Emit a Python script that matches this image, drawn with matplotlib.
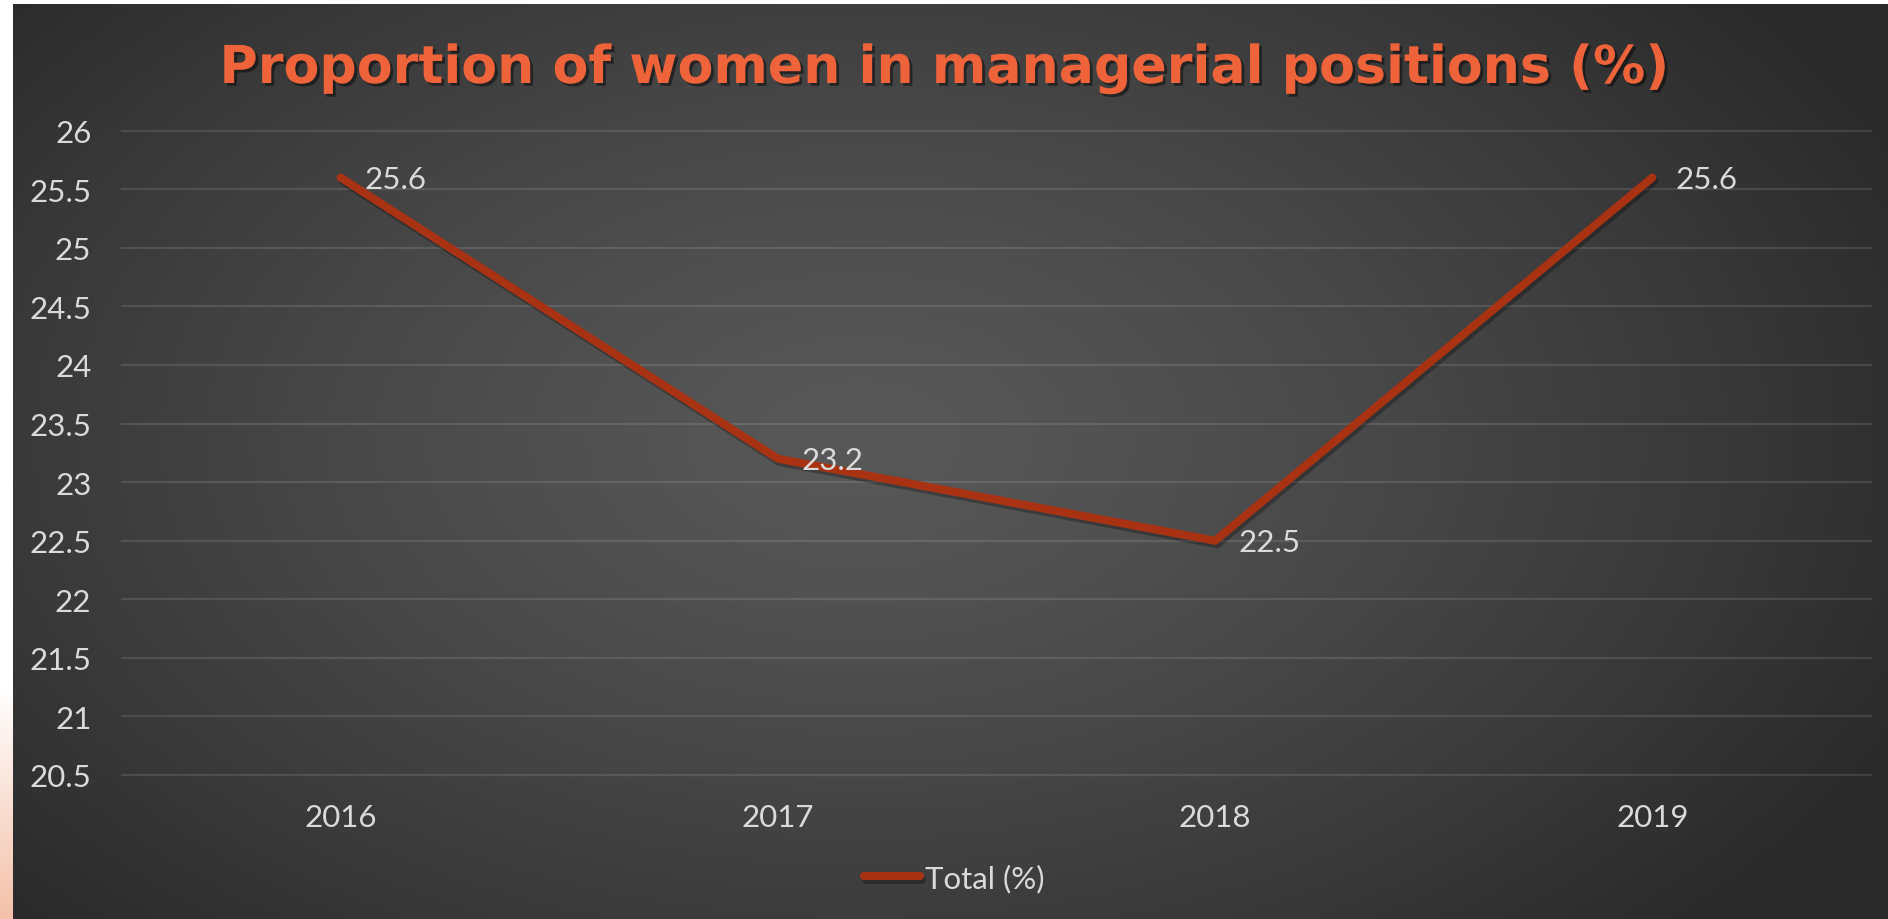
import numpy as np
import matplotlib
matplotlib.use("Agg")
import matplotlib.pyplot as plt
import matplotlib.patheffects as pe

# Chart data
years = ["2016", "2017", "2018", "2019"]
total_pct = [25.6, 23.2, 22.5, 25.6]
y_ticks = [20.5, 21, 21.5, 22, 22.5, 23, 23.5, 24, 24.5, 25, 25.5, 26]
title_text = "Proportion of women in managerial positions (%)"
series_name = "Total (%)"

W, H = 1888, 920
fig = plt.figure(figsize=(W / 100, H / 100), dpi=100)

# Dark radial-gradient backdrop with a thin white frame and a salmon accent strip
bg = fig.add_axes([0, 0, 1, 1])
bg.set_axis_off()
yy, xx = np.mgrid[0:H, 0:W]
r = np.sqrt(((xx - 860) / 1150.0) ** 2 + ((yy - 440) / 700.0) ** 2)
v = (88 - 46 * np.clip(r, 0, 1) ** 1.3) / 255.0
img = np.dstack([v, v, v])
img[:5, :, :] = 1.0
t = np.clip((np.arange(H) - 690) / 230.0, 0, 1)[:, None]
salmon = np.array([244, 192, 168]) / 255.0
img[:, :13, :] = (1 - t)[:, :, None] * 1.0 + t[:, :, None] * salmon
bg.imshow(img, aspect="auto", interpolation="bilinear")

# Plot area
ax = fig.add_axes([122 / W, 1 - 776 / H, 1749 / W, (776 - 131.7) / H])
ax.patch.set_alpha(0)
for s in ax.spines.values():
    s.set_visible(False)

x = np.arange(len(years))
ax.set_xlim(-0.5, len(years) - 0.5)
ax.set_ylim(y_ticks[0], y_ticks[-1])
ax.set_yticks(y_ticks)
ax.set_yticklabels([f"{v:g}" for v in y_ticks])
ax.set_xticks(x)
ax.set_xticklabels(years)

text_color = "#DADADA"
label_font = dict(family="Lato", weight="normal", size=22.5)
for lbl in ax.get_yticklabels() + ax.get_xticklabels():
    lbl.set_fontfamily(label_font["family"])
    lbl.set_fontweight(label_font["weight"])
    lbl.set_fontsize(label_font["size"])
    lbl.set_color(text_color)
ax.tick_params(axis="y", length=0, pad=22)
ax.tick_params(axis="x", length=0, pad=20)

ax.grid(axis="y", color="white", alpha=0.11, linewidth=1.6)
ax.grid(axis="x", visible=False)
for gl in ax.get_ygridlines():
    gl.set_clip_on(False)

line_color = "#A83212"
ax.plot(x, total_pct, color=line_color, linewidth=5.8,
        solid_capstyle="round", solid_joinstyle="miter", label=series_name,
        path_effects=[pe.SimpleLineShadow(offset=(1.5, -2.5), shadow_color="black", alpha=0.28),
                      pe.Normal()],
        zorder=3, clip_on=False)

for xi, val in zip(x, total_pct):
    ax.annotate(f"{val:g}", (xi, val), xytext=(17, -1), textcoords="offset points",
                ha="left", va="center", color=text_color,
                fontfamily=label_font["family"], fontweight=label_font["weight"],
                fontsize=label_font["size"], zorder=4)

leg = ax.legend(loc="center", bbox_to_anchor=(954 / W, 1 - 879 / H),
                bbox_transform=fig.transFigure, frameon=False,
                prop=dict(family=label_font["family"], weight=label_font["weight"],
                          size=label_font["size"]),
                handlelength=1.8, handletextpad=0.15)
for txt in leg.get_texts():
    txt.set_color(text_color)

fig.text(945 / W, 1 - 70 / H, title_text, ha="center", va="center",
         fontsize=37.6, fontweight="bold", fontfamily="DejaVu Sans", color="#EE6339",
         path_effects=[pe.withSimplePatchShadow(offset=(2, -2), shadow_rgbFace="black", alpha=0.45)])

fig.savefig("out.png", dpi=100)
